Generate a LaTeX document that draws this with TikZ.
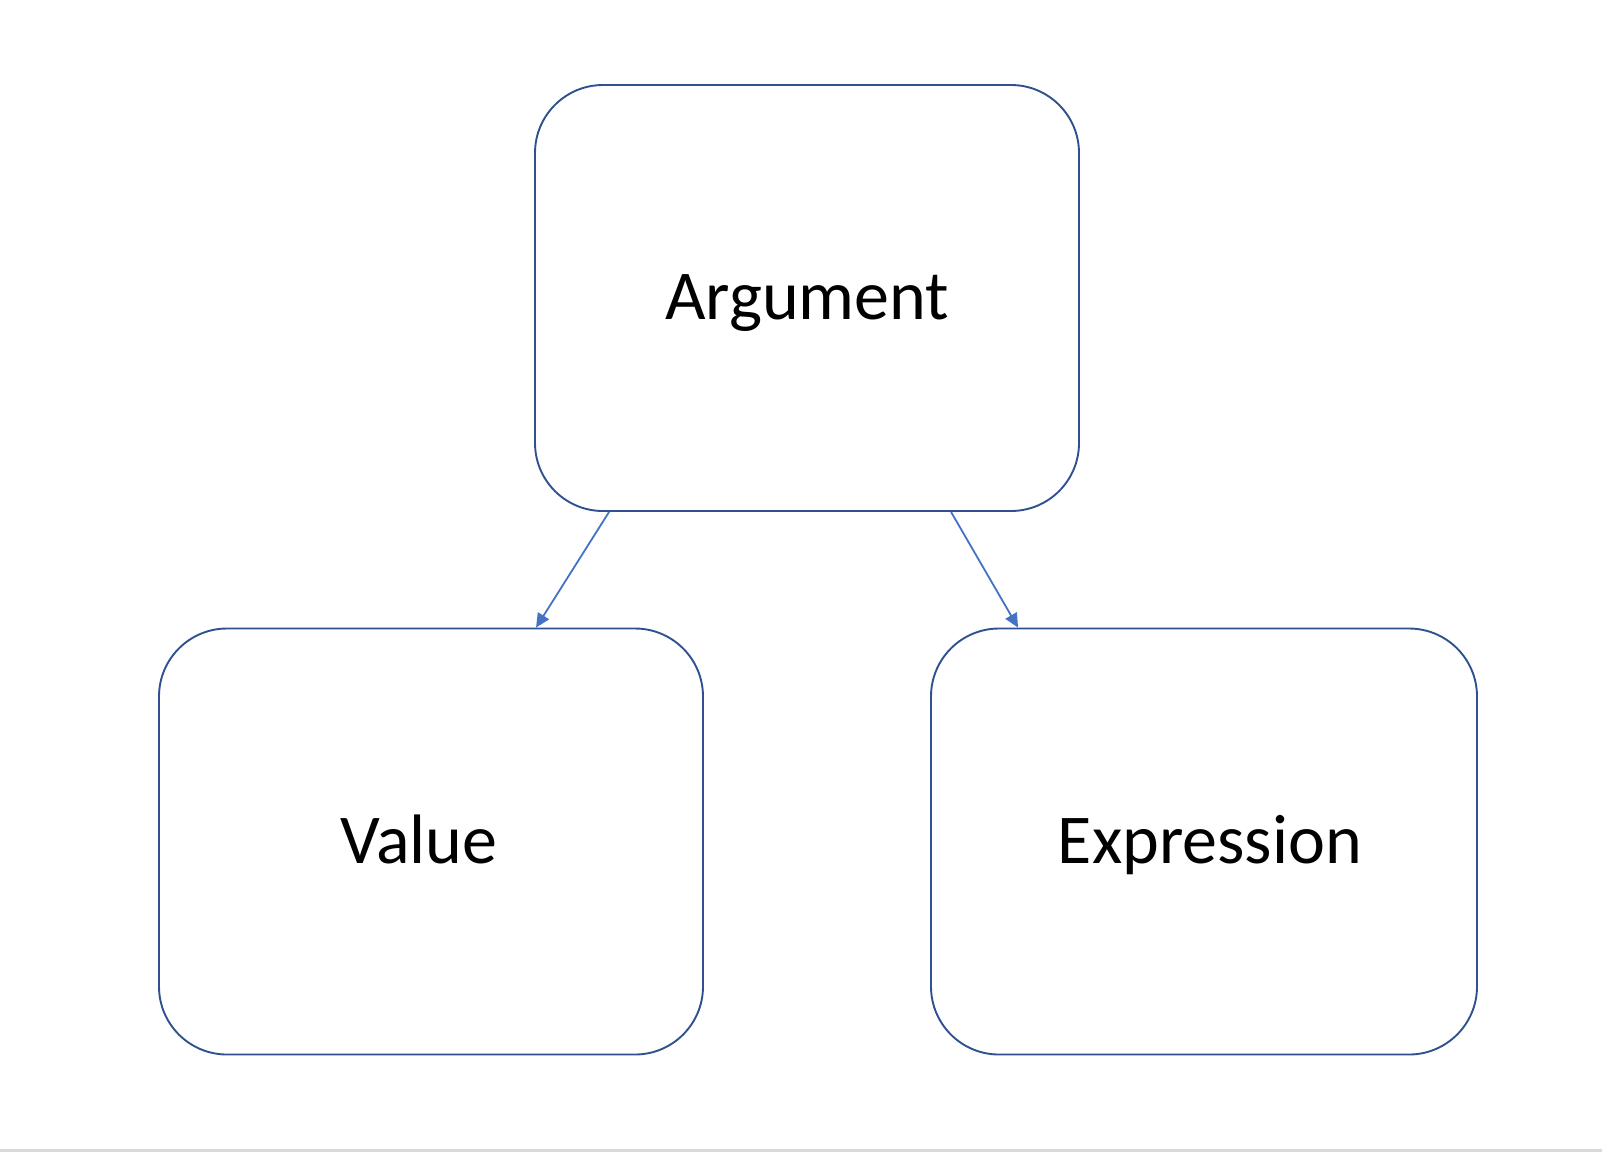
\documentclass[tikz,border=0pt]{standalone}
\usepackage{fontspec}
\setmainfont{Carlito}
\usetikzlibrary{arrows.meta,calc}
\definecolor{boxline}{HTML}{2F528F}
\definecolor{arrowline}{HTML}{4472C4}
\definecolor{rulegray}{HTML}{D9D9D9}
\begin{document}
\begin{tikzpicture}[x=1pt,y=-1pt,
  box/.style={draw=boxline,line width=1.9pt,rectangle,rounded corners=68pt,
    minimum width=544pt,minimum height=426pt,inner sep=0pt,fill=white},
  label text/.style={font=\fontsize{70}{84}\selectfont,inner sep=0pt,anchor=base},
  conn/.style={draw=arrowline,line width=1.8pt,-{Triangle[length=14pt,width=13pt]}}]
\useasboundingbox (0,0) rectangle (1602,1152);
\fill[white] (0,0) rectangle (1602,1152);
\fill[rulegray] (0,1149) rectangle (1602,1152);
\node[box] (arg) at (807,298) {};
\node[box] (val) at (431,841.5) {};
\node[box,minimum width=546pt] (expr) at (1204,841.5) {};
\node[label text] (argt) at (807,319) {Argument};
\node[label text] (valt) at (419,863) {Value};
\node[label text] (exprt) at (1210,863) {Expression};
\draw[conn] ($(arg.south west)+(75,0)$) -- ($(val.north west)+(378,0)$);
\draw[conn] ($(arg.south west)+(417,0)$) -- ($(expr.north west)+(88,0)$);
\end{tikzpicture}
\end{document}
